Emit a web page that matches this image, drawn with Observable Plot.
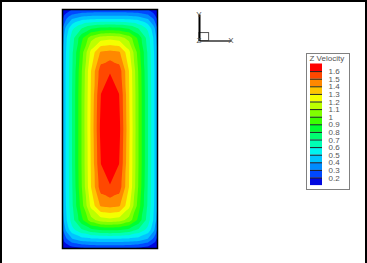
<!DOCTYPE html>
<html><head><meta charset="utf-8">
<script src="https://cdn.jsdelivr.net/npm/d3@7"></script>
<script src="https://cdn.jsdelivr.net/npm/@observablehq/plot@0.6"></script>
<style>
html,body{margin:0;padding:0;background:#fff;}
#page{position:relative;width:367px;height:263px;overflow:hidden;font-family:"Liberation Sans",Arial,sans-serif;}
#page svg{position:absolute;overflow:visible;}
#border{position:absolute;left:0;top:0;width:367px;height:263px;box-sizing:border-box;border:2px solid #000;border-bottom:none;pointer-events:none;}
#legbox{position:absolute;left:306px;top:53px;width:44px;height:137px;box-sizing:border-box;border:1px solid #808080;}
</style></head><body><div id="page"><div id="legbox"></div></div>
<script>
// grid positions (x across duct width, y = distance from top wall)
const xs = [0,0.04,0.1,0.2,0.3,0.4,0.5,0.6,0.7,0.8,0.9,0.96,1];
const ys = [0,0.04,0.1,0.2,0.3,0.45,0.65,0.9,1.26,1.62,1.87,2.07,2.22,2.32,2.42,2.48,2.52];
// Z velocity values, one row per ys entry
const zRows = [
  [0.08,0.14,0.20,0.22,0.22,0.22,0.22,0.22,0.22,0.22,0.20,0.14,0.08],
  [0.14,0.20,0.27,0.31,0.325,0.33,0.33,0.33,0.325,0.31,0.27,0.20,0.14],
  [0.19,0.30,0.40,0.47,0.49,0.50,0.50,0.50,0.49,0.47,0.40,0.30,0.19],
  [0.30,0.44,0.58,0.70,0.79,0.83,0.84,0.83,0.79,0.70,0.58,0.44,0.30],
  [0.36,0.49,0.65,0.87,1.06,1.15,1.17,1.15,1.06,0.87,0.65,0.49,0.36],
  [0.40,0.51,0.68,0.95,1.23,1.41,1.43,1.41,1.23,0.95,0.68,0.51,0.40],
  [0.41,0.52,0.69,0.99,1.30,1.55,1.595,1.55,1.30,0.99,0.69,0.52,0.41],
  [0.41,0.52,0.70,1.00,1.31,1.60,1.645,1.60,1.31,1.00,0.70,0.52,0.41],
  [0.41,0.52,0.70,1.00,1.32,1.62,1.66,1.62,1.32,1.00,0.70,0.52,0.41],
  [0.41,0.52,0.70,1.00,1.31,1.60,1.645,1.60,1.31,1.00,0.70,0.52,0.41],
  [0.41,0.52,0.69,0.99,1.30,1.55,1.595,1.55,1.30,0.99,0.69,0.52,0.41],
  [0.40,0.51,0.68,0.95,1.23,1.41,1.43,1.41,1.23,0.95,0.68,0.51,0.40],
  [0.36,0.49,0.65,0.87,1.06,1.15,1.17,1.15,1.06,0.87,0.65,0.49,0.36],
  [0.29,0.43,0.57,0.69,0.78,0.82,0.83,0.82,0.78,0.69,0.57,0.43,0.28],
  [0.18,0.29,0.39,0.46,0.48,0.49,0.49,0.49,0.48,0.46,0.39,0.28,0.17],
  [0.12,0.18,0.25,0.29,0.31,0.32,0.32,0.32,0.31,0.29,0.24,0.17,0.11],
  [0.06,0.10,0.15,0.18,0.19,0.19,0.19,0.19,0.19,0.18,0.15,0.10,0.05]
];
const levels = [0.2,0.3,0.4,0.5,0.6,0.7,0.8,0.9,1,1.1,1.2,1.3,1.4,1.5,1.6];
const bandColors = ["#0008e0","#0048ff","#008cff","#00c4ff","#00f4f0","#00ffb4","#00ff70","#00ff30",
                    "#3cff00","#80ff00","#bcff00","#f4ff00","#ffc400","#ff8800","#ff4800","#ff0000"];
const levelLabels = ["1.6","1.5","1.4","1.3","1.2","1.1","1","0.9","0.8","0.7","0.6","0.5","0.4","0.3","0.2"];
const legendTitle = "Z Velocity";
const triadNames = ["X","Y","Z"];
const triadDx = [1,0,0];
const triadDy = [0,1,0];

const page = document.getElementById("page");
const colorScale = {type:"threshold", domain: levels, range: bandColors};
const font = {fontFamily:"'Liberation Sans', Arial, sans-serif", fontSize:"8px", color:"#555", background:"none"};

const field = zRows.flatMap((row, j) => row.map((z, i) => ({x: xs[i], y: ys[j], z})));

const main = Plot.plot({
  width: 367, height: 263,
  marginLeft: 62, marginRight: 210, marginTop: 9, marginBottom: 15,
  x: {domain: [0, 1], axis: null},
  y: {domain: [0, 2.52], reverse: true, axis: null},
  color: colorScale,
  style: font,
  marks: [
    Plot.contour(field, {x: "x", y: "y", fill: "z", interpolate: "barycentric", pixelSize: 1,
      thresholds: [0, ...levels], stroke: null}),
    Plot.frame({stroke: "#000", strokeWidth: 1.5})
  ]
});
main.style.left = "0px"; main.style.top = "0px";
page.appendChild(main);

// axis triad
const triad = triadNames.map((name, i) => ({name, dx: triadDx[i], dy: triadDy[i]}));
const tri = Plot.plot({
  width: 70, height: 50,
  marginLeft: 14, marginRight: 24, marginTop: 14, marginBottom: 9.5,
  x: {domain: [0, 1], axis: null},
  y: {domain: [0, 1], axis: null},
  style: font,
  marks: [
    Plot.rect([0], {x1: 0, x2: 0.3, y1: 0, y2: 0.3, fill: "none", stroke: "#555", strokeWidth: 1}),
    Plot.link(triad.filter(d => d.dx), {x1: 0, y1: 0, x2: "dx", y2: "dy", stroke: "#333", strokeWidth: 1.5}),
    Plot.link(triad.filter(d => d.dy), {x1: 0, y1: 0, x2: "dx", y2: "dy", stroke: "#000", strokeWidth: 2}),
    Plot.text(triad, {x: "dx", y: "dy", text: "name",
      dx: d => d.dx ? 8 : 0, dy: d => d.dy ? -8 : 1, fill: "#555"})
  ]
});
tri.style.left = "185px"; tri.style.top = "0px";
page.appendChild(tri);

// legend
const bands = [...levels].reverse().concat([0]).map((v, i) => ({v, i}));
const leg = Plot.plot({
  width: 44, height: 137,
  marginLeft: 4, marginRight: 28, marginTop: 10.5, marginBottom: 4.9,
  x: {domain: [0, 1], axis: null},
  y: {domain: [0, 16], reverse: true, axis: null},
  color: colorScale,
  style: font,
  marks: [
    Plot.rect(bands, {x1: 0, x2: 1, y1: "i", y2: d => d.i + 1, fill: "v"}),
    Plot.ruleY(levelLabels.map((_, i) => i + 1), {x1: 0, x2: 1, stroke: "#222", strokeWidth: 1}),
    Plot.text(levelLabels, {x: 1, y: (d, i) => i + 1, text: d => d, dx: 6, textAnchor: "start", fill: "#555"}),
    Plot.text([legendTitle], {frameAnchor: "top-left", dx: -1, dy: -9, lineAnchor: "top", textAnchor: "start", fill: "#555"})
  ]
});
leg.style.left = "306px"; leg.style.top = "53px";
page.appendChild(leg);

const border = document.createElement("div");
border.id = "border";
page.appendChild(border);
</script>
</body></html>
